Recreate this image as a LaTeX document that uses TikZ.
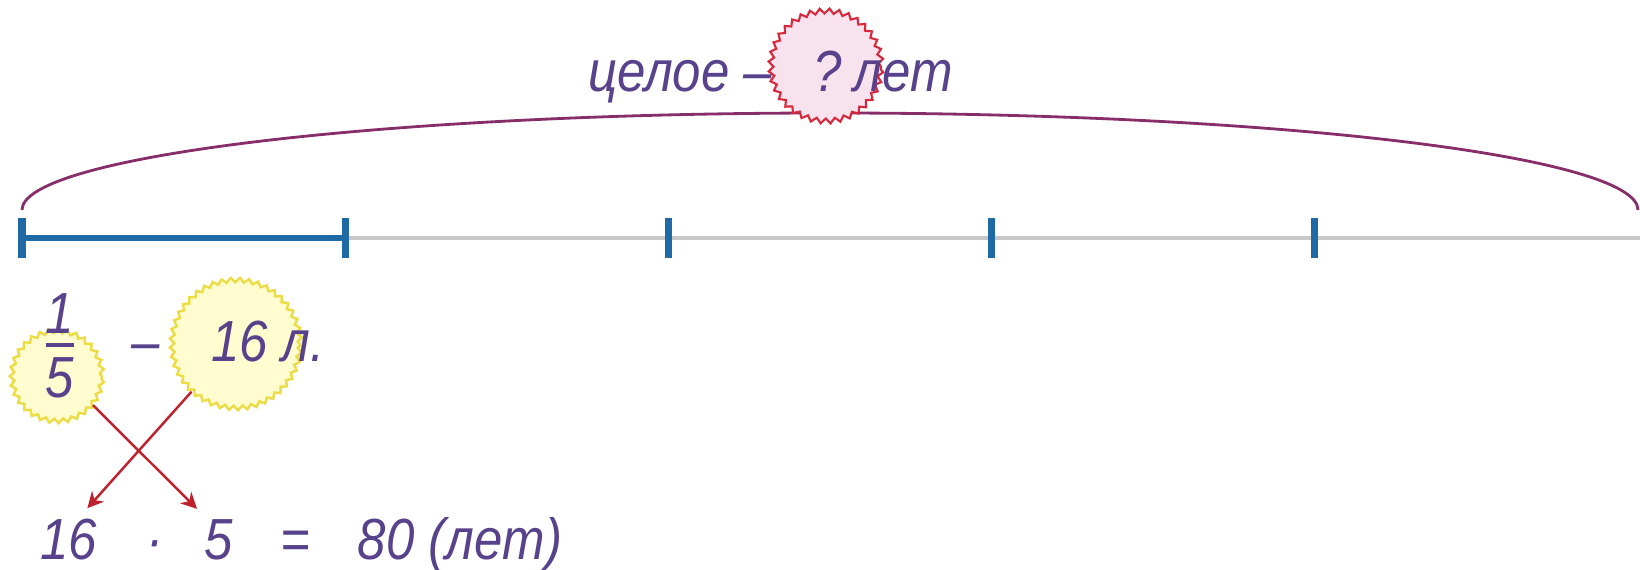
\documentclass[tikz,border=0pt]{standalone}
\usepackage{amsmath}
\usepackage{fontspec}
\setmainfont{Liberation Sans}[FakeStretch=0.88]
\usetikzlibrary{arrows.meta,positioning,decorations.pathmorphing}
\definecolor{txtvio}{RGB}{88,66,140}
\definecolor{segblue}{RGB}{31,105,165}
\definecolor{linegray}{RGB}{200,200,200}
\definecolor{arcmag}{RGB}{135,45,105}
\definecolor{burstred}{RGB}{215,40,60}
\definecolor{burstpink}{RGB}{248,226,238}
\definecolor{sunyel}{RGB}{236,220,70}
\definecolor{sunfill}{RGB}{255,252,208}
\definecolor{arrred}{RGB}{190,35,45}
\tikzset{
  lbl/.style={font=\fontsize{16.5}{20}\selectfont\itshape, text=txtvio, inner sep=3pt},
  tk/.style={segblue, line width=2pt},
  seg/.style={segblue, line width=1.8pt},
  axl/.style={linegray, line width=1.2pt},
  whole/.style={arcmag, line width=0.8pt},
  burst/.style={circle, draw=burstred, fill=burstpink, line width=0.6pt, inner sep=0pt,
       decorate, decoration={zigzag, segment length=0.95mm, amplitude=0.25mm}},
  sun/.style={circle, draw=sunyel, fill=sunfill, line width=0.7pt, inner sep=0pt,
       decorate, decoration={zigzag, segment length=0.9mm, amplitude=0.22mm}},
  crossarr/.style={-{Stealth[length=1.6mm, width=1.6mm]}, arrred, line width=0.7pt},
}

\begin{document}
\begin{tikzpicture}
    \def\L{0.22} \def\S{3.232} \def\Y{3.32}
    \useasboundingbox (0,0) rectangle (16.4,5.7);
    \draw[whole] (\L,3.60) arc[start angle=180, end angle=0, x radius=8.08, y radius=0.97];
    \draw[axl] (\L+\S,\Y) -- (16.4,\Y);
    \draw[seg] (\L,\Y) -- (\L+\S,\Y);
    \foreach \i in {0,...,4}
      \draw[tk] (\L+\i*\S,\Y-0.2) -- (\L+\i*\S,\Y+0.2);
    % top label
    \node[burst, minimum size=1.1cm] (qb) at (8.26,5.04) {};
    \node[lbl, anchor=base] (qm) at (8.28,4.78) {?};
    \node[lbl, anchor=base east, inner sep=0pt] (wh) at (7.73,4.78) {целое –};
    \node[lbl, anchor=base west, inner sep=0pt] (yr) at (8.53,4.78) {лет};
    % one part
    \node[sun, minimum size=0.9cm] (c5) at (0.57,1.94) {};
    \node[sun, minimum size=1.28cm] (c16) at (2.36,2.26) {};
    \node[lbl] (fr) at (0.60,2.24)
      {$\genfrac{}{}{1.2pt}{1}{\mbox{1}\rule[-1.5pt]{0pt}{0pt}}{\mbox{\rule{0pt}{13.3pt}5}}$};
    \node[lbl, anchor=base] (mn) at (1.46,2.08) {–};
    \node[lbl, anchor=base] (pt) at (2.68,2.08) {16 л.};
    % product
    \node[lbl, anchor=base] (n16) at (0.69,0.10) {16};
    \node[lbl, anchor=base] (dt) at (1.55,0.10) {·};
    \node[lbl, anchor=base] (n5) at (2.19,0.10) {5};
    \node[lbl, anchor=base] (eq) at (2.95,0.10) {=};
    \node[lbl, anchor=base] (res) at (4.60,0.10) {80 (лет)};
    \draw[crossarr] (c5.-39) -- (n5.125);
    \draw[crossarr] (c16.227) -- (n16.60);
  \end{tikzpicture}
\end{document}
